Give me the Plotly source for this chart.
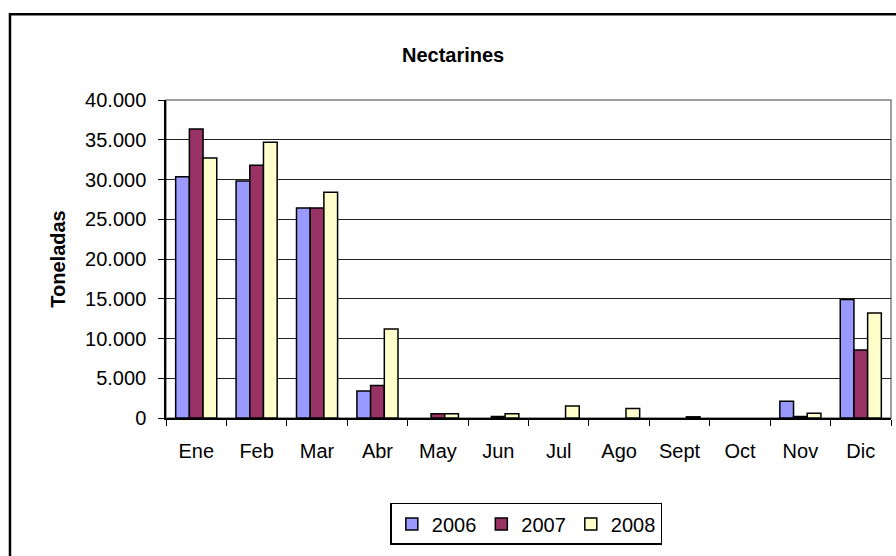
import plotly.graph_objects as go

# Datos de toneladas por mes (None = sin dato / cero)
meses = ["Ene", "Feb", "Mar", "Abr", "May", "Jun", "Jul", "Ago", "Sept", "Oct", "Nov", "Dic"]
t2006 = [30350, 29800, 26400, 3400, None, None, None, None, None, None, 2100, 14900]
t2007 = [36350, 31800, 26400, 4100, 550, 200, None, None, None, None, 200, 8550]
t2008 = [32700, 34700, 28400, 11200, 550, 550, 1500, 1200, 150, None, 600, 13200]

series = [("2006", t2006, "#9999FF"), ("2007", t2007, "#993366"), ("2008", t2008, "#FFFFCC")]

FONT = "Liberation Sans, Arial, sans-serif"

fig = go.Figure()
for name, vals, color in series:
    fig.add_trace(go.Bar(
        x=meses, y=vals, name=name,
        marker=dict(color=color, line=dict(color="#000000", width=1.5)),
    ))

fig.update_layout(
    width=896, height=556,
    paper_bgcolor="white", plot_bgcolor="white",
    font=dict(family=FONT, size=20, color="#000000"),
    separators=",.",
    barmode="group", bargap=0.32, bargroupgap=0,
    margin=dict(l=166, r=5, t=100, b=138, autoexpand=False),
    title=dict(text="<b>Nectarines</b>", x=0.396, xref="paper", xanchor="center",
               y=0.901, yanchor="middle", font=dict(size=20, family=FONT)),
    showlegend=True,
    legend=dict(orientation="h", x=0.497, xanchor="center", y=-0.267, yanchor="top",
                bordercolor="#000000", borderwidth=1.5, bgcolor="white",
                font=dict(size=20, family=FONT), itemwidth=30,
                traceorder="normal"),
    xaxis=dict(showline=True, linecolor="#000000", linewidth=1.5,
               ticks="outside", tickson="boundaries", ticklen=6, tickcolor="#000000",
               showgrid=False, tickfont=dict(size=20), ticklabelstandoff=14),
    yaxis=dict(range=[0, 40000], dtick=5000, tickformat=",d",
               showline=True, linecolor="#000000", linewidth=1.5,
               ticks="outside", ticklen=6, tickcolor="#000000",
               showgrid=True, gridcolor="#222222", gridwidth=1,
               zeroline=False, tickfont=dict(size=20), ticklabelstandoff=8,
               title=dict(text="<b>Toneladas</b>", standoff=14, font=dict(size=20))),
    shapes=[
        # borde gris del área de trazado
        dict(type="rect", xref="paper", yref="paper", x0=0, x1=1, y0=0, y1=1,
             line=dict(color="#808080", width=1.5), layer="below"),
        # marco exterior del gráfico
        dict(type="rect", xref="paper", yref="paper", x0=-0.2152, x1=1.012,
             y0=-0.46, y1=1.270, line=dict(color="#000000", width=2.5)),
    ],
)

fig.write_html("out.html", config={"displayModeBar": False},
               post_script="document.body.style.margin='0';")
